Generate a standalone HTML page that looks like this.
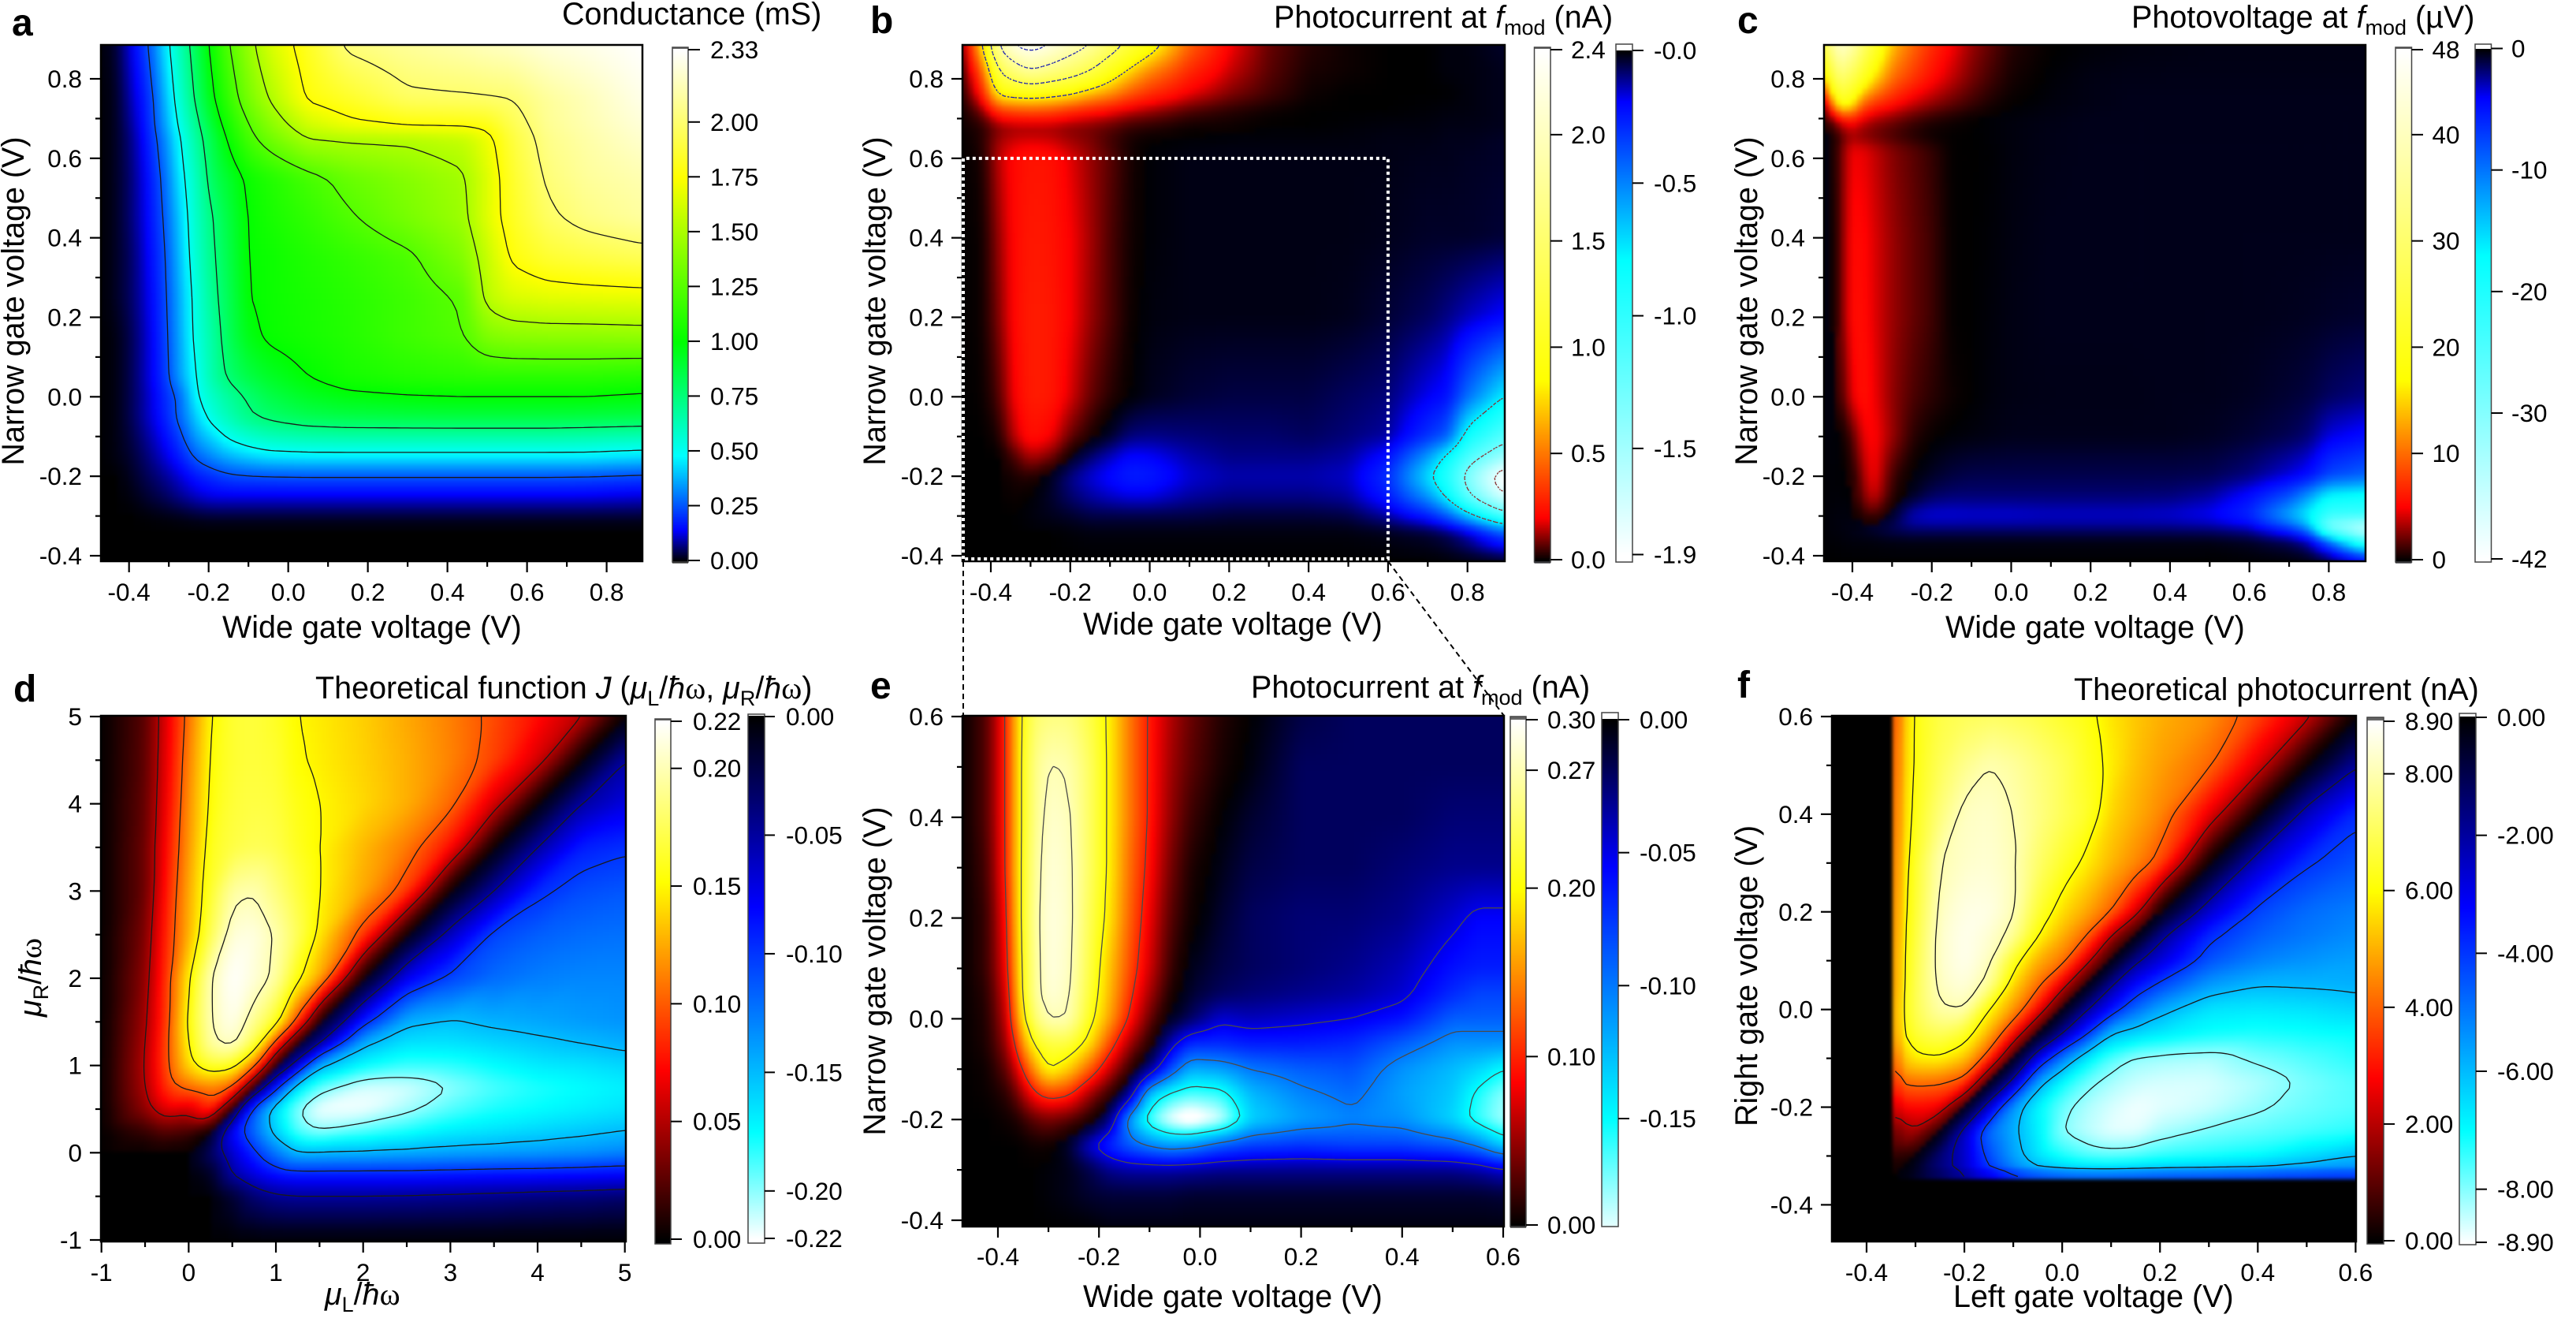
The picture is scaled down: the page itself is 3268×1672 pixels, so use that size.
<!DOCTYPE html>
<html lang="en">
<head>
<meta charset="utf-8">
<title>Photocurrent heatmaps</title>
<style>
html,body{margin:0;padding:0;background:#fff;}
svg{display:block;}
text{font-family:"Liberation Sans",sans-serif;fill:#000;}
.t{font-size:39.5px;}
.tick{font-size:31.5px;}
.pl{font-size:48px;font-weight:bold;}
.i{font-style:italic;}
.sub{font-size:27px;}
.w{font-family:"Liberation Serif",serif;}
</style>
</head>
<body>
<svg id="fig" xmlns="http://www.w3.org/2000/svg" width="3268" height="1672" viewBox="0 0 3268 1672">
<defs>
<filter id="soft" x="-3%" y="-3%" width="106%" height="106%" color-interpolation-filters="sRGB"><feGaussianBlur stdDeviation="2.3"/></filter>
</defs>
<rect width="3268" height="1672" fill="#fff"/>
<g id="plots"></g>
<g id="labels">
<text class="pl" x="15" y="45">a</text>
<text class="pl" x="1104" y="42">b</text>
<text class="pl" x="2204" y="42">c</text>
<text class="pl" x="17" y="890">d</text>
<text class="pl" x="1104" y="886">e</text>
<text class="pl" x="2204" y="885">f</text>

<text class="t" x="713" y="31">Conductance (mS)</text>
<text class="t" x="1616" y="35">Photocurrent at <tspan class="i">f</tspan><tspan class="sub" dy="9">mod</tspan><tspan dy="-9"> (nA)</tspan></text>
<text class="t" x="2704" y="35">Photovoltage at <tspan class="i">f</tspan><tspan class="sub" dy="9">mod</tspan><tspan dy="-9"> (µV)</tspan></text>
<text class="t" x="400" y="886">Theoretical function <tspan class="i">J</tspan> (<tspan class="i">μ</tspan><tspan class="sub" dy="9">L</tspan><tspan dy="-9">/</tspan><tspan class="i">ħ</tspan><tspan class="w">ω</tspan>, <tspan class="i">μ</tspan><tspan class="sub" dy="9">R</tspan><tspan dy="-9">/</tspan><tspan class="i">ħ</tspan><tspan class="w">ω</tspan>)</text>
<text class="t" x="1587" y="885">Photocurrent at <tspan class="i">f</tspan><tspan class="sub" dy="9">mod</tspan><tspan dy="-9"> (nA)</tspan></text>
<text class="t" x="2631" y="888">Theoretical photocurrent (nA)</text>

<text class="t" x="282" y="809">Wide gate voltage (V)</text>
<text class="t" x="1374" y="805">Wide gate voltage (V)</text>
<text class="t" x="2468" y="809">Wide gate voltage (V)</text>
<text class="t" x="412" y="1655"><tspan class="i">μ</tspan><tspan class="sub" dy="9">L</tspan><tspan dy="-9">/</tspan><tspan class="i">ħ</tspan><tspan class="w">ω</tspan></text>
<text class="t" x="1374" y="1658">Wide gate voltage (V)</text>
<text class="t" x="2478" y="1658">Left gate voltage (V)</text>

<text class="t" text-anchor="middle" transform="translate(30 382) rotate(-90)">Narrow gate voltage (V)</text>
<text class="t" text-anchor="middle" transform="translate(1123 382) rotate(-90)">Narrow gate voltage (V)</text>
<text class="t" text-anchor="middle" transform="translate(2229 382) rotate(-90)">Narrow gate voltage (V)</text>
<text class="t" text-anchor="middle" transform="translate(52 1240) rotate(-90)"><tspan class="i">μ</tspan><tspan class="sub" dy="9">R</tspan><tspan dy="-9">/</tspan><tspan class="i">ħ</tspan><tspan class="w">ω</tspan></text>
<text class="t" text-anchor="middle" transform="translate(1123 1232) rotate(-90)">Narrow gate voltage (V)</text>
<text class="t" text-anchor="middle" transform="translate(2229 1238) rotate(-90)">Right gate voltage (V)</text>
</g>
</svg>
<script>
// ---------- panel a: conductance (mS) ----------
const aXs=[-.47,-.43,-.39,-.35,-.31,-.27,-.23,-.19,-.15,-.1,-.05,.05,.15,.3,.44,.5,.56,.65,.75,.89];
const aYs=[.885,.75,.68,.65,.55,.45,.35,.25,.15,.05,0,-.05,-.1,-.15,-.2,-.25,-.3,-.33,-.41];
const aZ=[
[0,.03,.14,.25,.44,.64,.84,1.05,1.24,1.44,1.62,1.83,2.03,2.1,2.15,2.18,2.2,2.25,2.28,2.33],
[0,.02,.11,.2,.38,.58,.78,.98,1.15,1.35,1.5,1.77,1.84,1.97,1.98,1.99,2,2.1,2.17,2.28],
[0,.02,.09,.19,.35,.53,.71,.9,1.06,1.24,1.38,1.6,1.7,1.75,1.76,1.78,1.92,2.08,2.15,2.24],
[0,.02,.08,.18,.32,.5,.68,.86,1.02,1.2,1.32,1.5,1.52,1.53,1.58,1.7,1.88,2.06,2.13,2.22],
[0,.02,.07,.16,.28,.46,.62,.82,.91,1.03,1.09,1.2,1.3,1.39,1.48,1.65,1.84,2.02,2.1,2.15],
[0,.02,.07,.15,.26,.42,.6,.75,.87,1.01,1.06,1.14,1.23,1.35,1.46,1.66,1.82,1.97,2.05,2.11],
[0,.02,.06,.14,.24,.4,.58,.73,.85,1.01,1.03,1.09,1.14,1.22,1.38,1.58,1.77,1.86,1.9,1.94],
[0,.02,.06,.13,.23,.38,.55,.71,.83,1,1.03,1.07,1.11,1.18,1.27,1.55,1.64,1.67,1.68,1.69],
[0,.01,.05,.12,.22,.37,.54,.67,.82,.96,1.02,1.06,1.1,1.18,1.24,1.37,1.4,1.41,1.41,1.42],
[0,.01,.05,.12,.21,.36,.5,.66,.77,.86,.92,1,1.06,1.1,1.12,1.12,1.12,1.12,1.12,1.1],
[0,.01,.05,.11,.19,.28,.49,.6,.68,.77,.85,.93,.97,.99,1,1,1,1,1,.98],
[0,.01,.05,.11,.18,.28,.42,.55,.63,.73,.78,.84,.86,.87,.875,.875,.875,.875,.87,.86],
[0,.01,.04,.09,.15,.23,.36,.43,.52,.58,.62,.65,.66,.66,.66,.66,.66,.66,.65,.63],
[0,.01,.03,.07,.12,.18,.27,.33,.38,.42,.45,.46,.46,.46,.46,.46,.46,.46,.46,.44],
[0,0,.02,.05,.08,.12,.17,.2,.23,.24,.245,.25,.25,.25,.25,.25,.25,.25,.245,.23],
[0,0,.01,.03,.05,.08,.11,.13,.13,.13,.13,.13,.13,.13,.13,.13,.13,.13,.13,.12],
[0,0,0,.005,.01,.015,.025,.03,.03,.03,.03,.03,.03,.03,.03,.03,.03,.03,.03,.03],
[0,0,0,0,0,0,0,0,0,0,0,0,0,0,0,0,0,0,0,0],
[0,0,0,0,0,0,0,0,0,0,0,0,0,0,0,0,0,0,0,0]
];
const aXTicks=['-0.4','-0.2','0.0','0.2','0.4','0.6','0.8'];
const aXMinor=[-.3,-.1,.1,.3,.5,.7];
const aYTicks=['0.8','0.6','0.4','0.2','0.0','-0.2','-0.4'];
const aYMinor=[.7,.5,.3,.1,-.1,-.3];
const aBarLabels=['2.33','2.00','1.75','1.50','1.25','1.00','0.75','0.50','0.25','0.00'];
const aLevels=[.25,.5,.75,1,1.25,1.5,1.75,2];

// ---------- panel b: photocurrent (nA) ----------
const bXs=[-.47,-.42,-.38,-.34,-.3,-.25,-.2,-.15,-.1,-.05,0,.1,.2,.3,.4,.5,.6,.7,.75,.8,.89];
const bYs=[.885,.82,.76,.72,.68,.64,.6,.4,.2,0,-.1,-.15,-.2,-.25,-.3,-.34,-.41];
const bZ=[
[.05,.8,1.85,2.25,2.35,2.22,2,1.82,1.5,1.2,.95,.45,.2,.08,.03,.01,0,0,-.01,-.01,-.03],
[.03,.45,1.3,1.6,1.8,1.65,1.5,1.3,1,.75,.55,.3,.16,.07,.02,.01,0,0,-.01,-.01,-.02],
[.02,.25,.85,.9,.92,.88,.8,.65,.55,.4,.3,.18,.1,.05,.01,0,0,0,0,-.01,-.02],
[.01,.1,.32,.38,.4,.38,.3,.25,.2,.15,.12,.06,.03,.01,0,0,0,-.005,-.01,-.01,-.02],
[.01,.03,.1,.12,.12,.12,.1,.09,.07,.04,.03,.01,.01,0,0,-.005,-.01,-.01,-.015,-.015,-.02],
[0,.03,.13,.17,.18,.17,.13,.1,.05,.015,0,-.005,-.01,-.01,-.01,-.01,-.015,-.015,-.02,-.02,-.03],
[0,.02,.15,.22,.25,.24,.18,.12,.07,.02,-.005,-.015,-.015,-.015,-.015,-.015,-.015,-.02,-.02,-.025,-.03],
[0,.01,.12,.22,.26,.25,.2,.13,.06,.015,-.005,-.015,-.015,-.015,-.015,-.015,-.02,-.03,-.03,-.03,-.04],
[0,.01,.1,.22,.27,.26,.2,.12,.06,.01,-.01,-.015,-.015,-.015,-.015,-.02,-.04,-.07,-.1,-.14,-.2],
[0,.005,.06,.2,.27,.26,.17,.08,.03,0,-.02,-.04,-.05,-.05,-.05,-.07,-.09,-.18,-.22,-.45,-.75],
[0,0,.02,.15,.24,.2,.08,.02,-.03,-.09,-.1,-.09,-.08,-.08,-.07,-.09,-.12,-.3,-.4,-.85,-1.15],
[0,0,0,.06,.14,.1,0,-.08,-.14,-.2,-.19,-.13,-.1,-.1,-.1,-.12,-.22,-.55,-.8,-1.1,-1.45],
[0,0,0,.02,.03,-.02,-.1,-.16,-.21,-.26,-.25,-.16,-.13,-.13,-.13,-.15,-.3,-.72,-.95,-1.35,-1.95],
[0,0,0,.01,0,-.03,-.08,-.12,-.15,-.17,-.17,-.12,-.1,-.1,-.1,-.12,-.25,-.55,-.8,-1.2,-1.75],
[0,0,0,0,-.01,-.02,-.03,-.05,-.05,-.05,-.05,-.05,-.04,-.04,-.04,-.05,-.12,-.25,-.4,-.65,-1.1],
[0,0,0,0,0,0,-.005,-.01,-.01,-.01,-.01,-.01,-.01,-.01,-.01,-.01,-.02,-.04,-.07,-.15,-.4],
[0,0,0,0,0,0,0,0,0,0,0,0,0,0,0,0,0,0,-.005,-.01,-.02]
];
const bBarPosLabels=['2.4','2.0','1.5','1.0','0.5','0.0'];
const bBarNegLabels=['-0.0','-0.5','-1.0','-1.5','-1.9'];
const bLevelsPos=[.8,1.3,1.8,2.2];
const bLevelsNeg=[-.75,-1.25,-1.75];

// ---------- panel c: photovoltage (uV) ----------
const cXs=[-.47,-.44,-.41,-.38,-.35,-.3,-.25,-.2,-.15,-.1,-.05,0,.1,.2,.3,.4,.5,.6,.7,.75,.8,.89];
const cYs=[.885,.8,.74,.7,.66,.62,.4,.2,0,-.1,-.2,-.25,-.3,-.33,-.36,-.41];
const cZ=[
[25,42,40,32,24,14,10,7,5,3,1.8,.7,.05,-.1,-.2,-.25,-.3,-.3,-.3,-.3,-.3,-.3],
[12,30,28,22,16,10,7.5,5.5,3.8,2.3,1.2,.4,-.1,-.3,-.35,-.35,-.35,-.35,-.35,-.35,-.35,-.35],
[1,18,20,11,8,6,4.2,3,2,1.2,.5,.1,-.2,-.3,-.4,-.4,-.4,-.4,-.4,-.4,-.4,-.4],
[0,4,7,5,3.5,2.5,1.5,.8,.4,.1,-.1,-.2,-.3,-.4,-.4,-.4,-.4,-.4,-.4,-.4,-.4,-.4],
[-.3,.5,3,2.5,2,1.3,.6,.15,.05,0,-.1,-.2,-.35,-.4,-.4,-.4,-.4,-.4,-.4,-.4,-.4,-.4],
[-.3,.5,4.5,4.8,4,2.6,1.8,1,.05,.02,-.05,-.2,-.35,-.4,-.4,-.4,-.4,-.4,-.4,-.4,-.4,-.4],
[-.3,.2,5,5.5,4.5,3,2,1.2,.05,.01,-.1,-.25,-.4,-.4,-.4,-.4,-.4,-.4,-.4,-.4,-.4,-.4],
[-.3,.2,5,5.8,4.6,3,2,1.2,.05,0,-.15,-.3,-.4,-.4,-.4,-.4,-.4,-.4,-.45,-.5,-.6,-.7],
[-.3,0,3.5,6,5,2.8,1.5,.8,.25,.01,-.2,-.3,-.35,-.35,-.35,-.4,-.4,-.5,-.8,-1,-1.5,-2],
[-.2,-.1,.5,4,5.5,3,.8,.1,-.1,-.2,-.3,-.4,-.4,-.4,-.4,-.4,-.5,-.8,-1.3,-1.8,-3.5,-4.5],
[-.1,-.1,0,2,5.5,1.2,-.1,-.6,-1,-1.2,-1.2,-1.2,-1.2,-1.2,-1.2,-1.2,-1.3,-2,-3.5,-4.5,-7.5,-9],
[-.1,-.1,-.1,1.5,4.5,.8,-.5,-1.5,-1.8,-1.8,-1.8,-1.8,-1.8,-1.8,-1.8,-1.9,-2.5,-4.5,-8,-12,-17,-18],
[-.1,-.2,-.2,.5,1.5,-.5,-3,-3.5,-3.5,-3.4,-3.4,-3.4,-3.2,-3.2,-3.2,-3.4,-4,-6,-13,-17,-23,-23],
[-.1,-.2,-.3,-.5,-.8,-1.5,-2,-2,-2,-2,-2,-2,-2,-2,-2,-2,-2.2,-3,-7,-12,-30,-38],
[-.1,-.1,-.2,-.2,-.2,-.3,-.3,-.3,-.3,-.3,-.3,-.3,-.3,-.3,-.3,-.3,-.3,-.6,-1.5,-3,-10,-25],
[0,0,0,0,0,0,0,0,0,0,0,0,0,0,0,0,0,-.05,-.1,-.2,-.8,-4]
];
const cBarPosLabels=['48','40','30','20','10','0'];
const cBarNegLabels=['0','-10','-20','-30','-42'];

// ---------- panel d: theoretical J ----------
const dXs=[-1,-.5,-.25,0,.25,.5,.75,1,1.25,1.5,2,2.5,3,3.5,4,4.5,5];
const dYs=[5,4.5,4,3.5,3,2.5,2,1.5,1.25,1,.75,.5,.25,0,-.25,-.5,-1];
const dZ=[
[0,.025,.065,.108,.15,.165,.168,.162,.15,.146,.137,.125,.112,.095,.075,.052,0],
[0,.026,.067,.113,.153,.165,.168,.165,.152,.147,.138,.127,.113,.092,.06,0,-.05],
[0,.028,.07,.117,.155,.167,.17,.168,.157,.15,.14,.127,.105,.06,0,-.05,-.07],
[0,.03,.075,.12,.16,.17,.175,.172,.16,.15,.13,.11,.075,0,-.05,-.09,-.097],
[0,.03,.08,.125,.165,.195,.199,.185,.168,.15,.125,.09,0,-.05,-.095,-.108,-.112],
[0,.035,.085,.128,.175,.21,.212,.198,.175,.145,.09,0,-.06,-.105,-.115,-.12,-.122],
[0,.04,.09,.147,.2,.22,.21,.195,.155,.125,0,-.075,-.105,-.12,-.127,-.13,-.13],
[0,.045,.092,.155,.2,.215,.19,.16,.09,0,-.09,-.145,-.152,-.146,-.142,-.138,-.135],
[0,.048,.095,.15,.195,.205,.17,.09,0,-.05,-.145,-.165,-.165,-.16,-.155,-.15,-.145],
[0,.05,.095,.14,.165,.16,.11,0,-.07,-.145,-.175,-.185,-.183,-.175,-.168,-.165,-.16],
[0,.048,.088,.105,.115,.1,0,-.09,-.165,-.192,-.213,-.212,-.2,-.188,-.18,-.175,-.17],
[0,.04,.065,.06,.085,0,-.11,-.165,-.198,-.218,-.218,-.205,-.19,-.18,-.175,-.17,-.165],
[0,.015,.025,.02,0,-.08,-.12,-.16,-.19,-.2,-.19,-.18,-.17,-.165,-.16,-.155,-.15],
[0,0,0,0,-.03,-.065,-.095,-.125,-.15,-.15,-.148,-.145,-.142,-.14,-.138,-.135,-.13],
[0,0,0,0,-.01,-.05,-.07,-.085,-.09,-.09,-.09,-.09,-.088,-.086,-.085,-.083,-.08],
[0,0,0,0,0,-.015,-.035,-.045,-.048,-.048,-.048,-.047,-.045,-.043,-.04,-.038,-.035],
[0,0,0,0,0,0,0,0,0,0,0,0,0,0,0,0,0]
];
const dXTicks=['-1','0','1','2','3','4','5'];
const dYTicks=['5','4','3','2','1','0','-1'];
const dMinor=[-.5,.5,1.5,2.5,3.5,4.5];
const dBarPosLabels=['0.22','0.20','0.15','0.10','0.05','0.00'];
const dBarNegLabels=['0.00','-0.05','-0.10','-0.15','-0.20','-0.22'];
const dLevels=[.05,.1,.15,.2,-.05,-.1,-.15,-.2];

// ---------- panel e: photocurrent zoom (nA) ----------
const eXs=[-.47,-.42,-.38,-.36,-.33,-.3,-.26,-.22,-.18,-.14,-.1,-.06,-.02,.04,.1,.2,.3,.4,.5,.55,.6];
const eYs=[.6,.5,.4,.3,.2,.1,.05,0,-.05,-.1,-.15,-.2,-.25,-.3,-.35,-.415];
const eZ=[
[0,.03,.11,.19,.24,.25,.25,.23,.195,.14,.095,.06,.035,.012,0,-.015,-.02,-.02,-.02,-.02,-.02],
[0,.03,.11,.19,.25,.272,.268,.24,.195,.14,.095,.055,.03,.008,-.003,-.02,-.02,-.02,-.02,-.02,-.02],
[0,.03,.11,.19,.25,.28,.275,.24,.195,.14,.095,.05,.02,0,-.01,-.02,-.02,-.02,-.025,-.025,-.025],
[0,.025,.11,.19,.255,.285,.278,.24,.195,.135,.09,.04,.01,-.005,-.015,-.02,-.02,-.025,-.03,-.03,-.03],
[0,.02,.1,.19,.258,.288,.28,.235,.19,.13,.08,.03,.005,-.01,-.02,-.025,-.025,-.03,-.045,-.055,-.055],
[0,.02,.09,.185,.255,.288,.278,.23,.175,.12,.07,.02,-.005,-.015,-.02,-.025,-.03,-.04,-.06,-.065,-.065],
[0,.015,.08,.18,.255,.285,.275,.225,.17,.11,.055,.01,-.01,-.02,-.025,-.03,-.035,-.045,-.07,-.08,-.08],
[0,.012,.07,.165,.24,.272,.27,.215,.16,.095,.035,-.005,-.02,-.045,-.04,-.045,-.05,-.06,-.09,-.09,-.09],
[0,.01,.055,.125,.205,.225,.225,.19,.12,.055,.01,-.04,-.07,-.07,-.065,-.065,-.07,-.09,-.11,-.11,-.11],
[0,.005,.035,.08,.15,.205,.18,.13,.07,.015,-.03,-.08,-.12,-.115,-.1,-.09,-.085,-.11,-.125,-.135,-.15],
[0,.003,.015,.04,.09,.115,.105,.055,.015,-.03,-.13,-.155,-.165,-.16,-.125,-.105,-.095,-.115,-.13,-.155,-.175],
[0,0,.005,.01,.03,.04,.03,.01,-.025,-.115,-.165,-.195,-.21,-.19,-.135,-.115,-.105,-.11,-.135,-.16,-.18],
[0,0,0,0,.005,.005,-.01,-.045,-.07,-.09,-.105,-.115,-.11,-.09,-.08,-.075,-.08,-.08,-.09,-.105,-.135],
[0,0,0,0,0,-.002,-.005,-.015,-.03,-.035,-.035,-.035,-.033,-.03,-.03,-.03,-.03,-.03,-.03,-.035,-.045],
[0,0,0,0,0,-.002,-.005,-.01,-.012,-.012,-.012,-.012,-.01,-.01,-.01,-.01,-.01,-.01,-.01,-.01,-.012],
[0,0,0,0,0,0,0,0,-.003,-.003,-.003,-.003,-.003,-.003,-.003,-.003,-.003,-.003,-.003,-.003,-.003]
];
const eXTicks=['-0.4','-0.2','0.0','0.2','0.4','0.6'];
const eXMinor=[-.3,-.1,.1,.3,.5];
const eYTicks=['0.6','0.4','0.2','0.0','-0.2','-0.4'];
const eYMinor=[.5,.3,.1,-.1,-.3];
const eBarPosLabels=['0.30','0.27','0.20','0.10','0.00'];
const eBarNegLabels=['0.00','-0.05','-0.10','-0.15'];
const eLevels=[.1,.2,.27,-.05,-.1,-.15];

// ---------- panel f: theoretical photocurrent (nA) ----------
const fXs=[-.47,-.345,-.34,-.3,-.25,-.2,-.15,-.1,-.05,0,.05,.1,.15,.2,.3,.4,.5,.6];
const fYs=[.6,.5,.4,.3,.2,.15,.1,.05,0,-.05,-.1,-.15,-.2,-.25,-.3,-.34,-.345,-.47];
const fZ=[
[0,0,4.4,6.2,6.8,7,7.1,7,6.8,6.5,6.2,5.7,5.3,5,4.6,3.6,2.2,0],
[0,0,4.6,6.2,7,7.6,8,7.8,7.4,7,6.4,5.8,5.2,4.8,4.1,2.4,0,-1.9],
[0,0,4.8,6.3,7.4,8.2,8.3,8,7.5,7,6.5,5.5,5,4.5,2.6,0,-2.4,-3.8],
[0,0,5,6.5,8,8.3,8.4,8.1,7.2,6.5,5.8,5.1,4.5,3.7,0,-2.5,-3.9,-4.4],
[0,0,5.2,6.6,8.2,8.6,8.6,8.1,6.6,5.6,4.9,4,2.4,0,-2.6,-4.2,-4.8,-5.1],
[0,0,5.3,6.7,8.3,8.7,8.4,7.7,6,5,4,2,0,-1.75,-3.8,-4.6,-5,-5.3],
[0,0,5.4,6.8,8.3,8.7,8.2,6.4,5,4.3,2.4,0,-1.8,-2.7,-4.4,-5.1,-5.4,-5.6],
[0,0,5.4,6.9,8.2,8.5,7.7,5.5,4.2,2.5,0,-1.9,-3.3,-4.2,-5.5,-5.95,-5.9,-5.8],
[0,0,5.6,6.9,7.9,8,6,4.7,2.9,0,-1.9,-3.4,-4.8,-5.7,-6.6,-6.7,-6.6,-6.4],
[0,0,5.5,6.6,7,6.5,5,3,0,-2,-3.9,-6,-6.4,-6.7,-7.1,-7.2,-7.1,-7],
[0,0,4.8,5.8,5.9,5.3,3.5,0,-2.9,-5,-6.7,-7.6,-8.1,-8.2,-8.3,-7.9,-7.6,-7.3],
[0,0,3.9,4.2,4.1,3.6,0,-2.4,-5.6,-7,-7.8,-8.25,-8.5,-8.6,-8.6,-8.3,-7.9,-7.6],
[0,0,2.7,2.9,2.7,0,-2.6,-5.4,-6.9,-7.8,-8.3,-8.6,-8.8,-8.7,-8.5,-8.1,-7.8,-7.6],
[0,0,1.4,1.9,0,-2.4,-4.8,-5.8,-6.8,-8,-8.4,-8.7,-8.7,-8.3,-7.9,-7.7,-7.5,-7.3],
[0,0,.6,0,-1.5,-2.5,-4.3,-5.6,-6.6,-7.2,-7.6,-7.7,-7.6,-7.4,-7.2,-7,-6.5,-6],
[0,0,0,-.6,-1.5,-2.4,-3.6,-4.7,-5.4,-5.7,-5.8,-5.8,-5.7,-5.6,-5.5,-5.3,-5.1,-5],
[0,0,0,0,0,0,0,0,0,0,0,0,0,0,0,0,0,0],
[0,0,0,0,0,0,0,0,0,0,0,0,0,0,0,0,0,0]
];
const fBarPosLabels=['8.90','8.00','6.00','4.00','2.00','0.00'];
const fBarNegLabels=['0.00','-2.00','-4.00','-6.00','-8.00','-8.90'];
const fLevels=[2,4,6,8,-2,-4,-6,-8];

// ---------- colour ramps (style) ----------
const BK=[0,0,0],BL=[0,0,255],CY=[0,255,255],WH=[255,255,255],RD=[255,0,0],YL=[255,255,0],GR=[0,255,0];
function hot(r,y,w){return [[0,BK],[r,RD],[y,YL],[w,WH]];}
function ice(b,c,w){return [[0,BK],[b,BL],[c,CY],[w,WH]];}
function ramp(stops,v){
  if(v<=stops[0][0])return stops[0][1];
  for(let i=1;i<stops.length;i++){
    if(v<=stops[i][0]){
      const a=stops[i-1],b=stops[i],t=(v-a[0])/(b[0]-a[0]);
      return [a[1][0]+(b[1][0]-a[1][0])*t,a[1][1]+(b[1][1]-a[1][1])*t,a[1][2]+(b[1][2]-a[1][2])*t];
    }
  }
  return stops[stops.length-1][1];
}
function colorOf(p,v){
  const c=v>=0?ramp(p.pos,v):ramp(p.neg,-v);
  return 'rgb('+Math.round(c[0])+','+Math.round(c[1])+','+Math.round(c[2])+')';
}

// ---------- panel layout ----------
const XT=aXTicks,YT=aYTicks;
const panels=[
{id:'a',X:aXs,Y:aYs,Z:aZ,L:128,R:815,T:57,B:712,xa:[-.4,163.7,.8,769.6],ya:[.8,100,-.4,705],xt:XT,xm:aXMinor,yt:YT,ym:aYMinor,xb:762,pos:[[0,BK],[.14,BL],[.48,CY],[1,GR],[1.75,YL],[2.33,WH]],neg:[[0,BK]],levels:aLevels,smooth:1,stroke:'#1a1a1a',
 bars:[{x:853,w:20,top:60,bot:713,a:[2.33,63,0,711],lab:aBarLabels,lx:901,cap:'#666',tickEnd:888}]},
{id:'b',X:bXs,Y:bYs,Z:bZ,L:1221,R:1909,T:57,B:712,xa:[-.4,1257,.8,1861.7],ya:[.8,100,-.4,705],xt:XT,xm:aXMinor,yt:YT,ym:aYMinor,xb:762,pos:hot(.2,.85,2.4),neg:ice(.19,.79,1.9),levels:bLevelsPos.concat(bLevelsNeg),smooth:1,stroke:'#1a20b0',strokeNeg:'#8c2c2c',dash:'2.5 2',
 bars:[{x:1946.5,w:20.5,top:60,bot:713,a:[2.4,63,0,710],lab:bBarPosLabels,lx:1993,cap:'#666',tickEnd:1982},{x:2050,w:21,top:56,bot:713,a:[0,64,-1.9,703.5],lab:bBarNegLabels,lx:2098,cap:'#fff',tickEnd:2085}]},
{id:'c',X:cXs,Y:cYs,Z:cZ,L:2314,R:3001,T:57,B:712,xa:[-.4,2350,.8,2954.4],ya:[.8,100,-.4,705],xt:XT,xm:aXMinor,yt:YT,ym:aYMinor,xb:762,pos:hot(5,17,48),neg:ice(4,17,42),levels:[],smooth:1,stroke:'#000',
 bars:[{x:3039,w:20.5,top:60,bot:713,a:[48,63,0,710],lab:cBarPosLabels,lx:3085.5,cap:'#666',tickEnd:3074},{x:3140,w:20.5,top:56,bot:713,a:[0,61.5,-42,709],lab:cBarNegLabels,lx:3186,cap:'#fff',tickEnd:3175}]},
{id:'d',X:dXs,Y:dYs,Z:dZ,L:128,R:794,T:908,B:1575,xa:[-1,128.7,5,792.7],ya:[5,909,-1,1573],xt:dXTicks,xm:dMinor,yt:dYTicks,ym:dMinor,xb:1625,pos:hot(.072,.152,.22),neg:ice(.08,.175,.22),levels:dLevels,smooth:1,stroke:'#1a1a1a',diag:true,
 bars:[{x:831,w:20,top:912,bot:1578,a:[.22,915,0,1572],lab:dBarPosLabels,lx:879,cap:'#666',tickEnd:865},{x:949,w:21,top:906,bot:1577,a:[0,909,-.22,1571],lab:dBarNegLabels,lx:997,cap:'#fff',tickEnd:983}]},
{id:'e',X:eXs,Y:eYs,Z:eZ,L:1221,R:1908,T:908,B:1556,xa:[-.4,1266,.6,1907],ya:[.6,909,-.4,1548],xt:eXTicks,xm:eXMinor,yt:eYTicks,ym:eYMinor,xb:1605,pos:hot(.085,.2,.3),neg:ice(.055,.15,.195),levels:eLevels,smooth:1,stroke:'#4a4a4a',
 bars:[{x:1916,w:20,top:909,bot:1556,a:[.3,913,0,1554],lab:eBarPosLabels,lx:1963,cap:'#666',tickEnd:1951},{x:2032,w:21,top:904,bot:1556,a:[0,913,-.15,1419],lab:eBarNegLabels,lx:2080,cap:'#fff',tickEnd:2067}]},
{id:'f',X:fXs,Y:fYs,Z:fZ,L:2324,R:2989,T:908,B:1575,xa:[-.4,2368,.6,2988.4],ya:[.6,909,-.4,1528.4],xt:eXTicks,xm:eXMinor,yt:eYTicks,ym:eYMinor,xb:1625,pos:hot(2.8,6,8.9),neg:ice(3.2,7,8.9),levels:fLevels,smooth:1,stroke:'#1a1a1a',diag:true,skipZero:true,
 bars:[{x:3003,w:21,top:910,bot:1578,a:[8.9,915,0,1574],lab:fBarPosLabels,lx:3051,cap:'#666',tickEnd:3038},{x:3120,w:21,top:905,bot:1579,a:[0,910,-8.9,1576],lab:fBarNegLabels,lx:3168,cap:'#fff',tickEnd:3155}]}
];

// ---------- axis functions ----------
function xScale(p,v){return p.xa[1]+(v-p.xa[0])*(p.xa[3]-p.xa[1])/(p.xa[2]-p.xa[0]);}
function yScale(p,v){return p.ya[1]+(v-p.ya[0])*(p.ya[3]-p.ya[1])/(p.ya[2]-p.ya[0]);}
function xInv(p,px){return p.xa[0]+(px-p.xa[1])*(p.xa[2]-p.xa[0])/(p.xa[3]-p.xa[1]);}
function yInv(p,py){return p.ya[0]+(py-p.ya[1])*(p.ya[2]-p.ya[0])/(p.ya[3]-p.ya[1]);}

function sampleGrid(p,x,y){
  const X=p.X,Y=p.Y,Z=p.Z;
  x=Math.max(X[0],Math.min(X[X.length-1],x));
  y=Math.min(Y[0],Math.max(Y[Y.length-1],y));
  let i=0;while(i<X.length-2&&x>X[i+1])i++;
  let j=0;while(j<Y.length-2&&y<Y[j+1])j++;
  const u=(x-X[i])/(X[i+1]-X[i]),w=(y-Y[j+1])/(Y[j]-Y[j+1]);
  const ll=Z[j+1][i],lr=Z[j+1][i+1],ul=Z[j][i],ur=Z[j][i+1];
  if(p.diag){
    if(w>u)return ll*(1-w)+ul*(w-u)+ur*u;
    return ll*(1-u)+lr*(u-w)+ur*w;
  }
  return (ll*(1-u)+lr*u)*(1-w)+(ul*(1-u)+ur*u)*w;
}

const NS='http://www.w3.org/2000/svg';
const STEP=7;
const root=document.getElementById('plots');
function mk(tag,parent){const e=document.createElementNS(NS,tag);parent.appendChild(e);return e;}

function buildField(p){
  const nx=Math.ceil((p.R-p.L)/STEP)+4,ny=Math.ceil((p.B-p.T)/STEP)+4;
  let f=[];
  for(let j=0;j<ny;j++){
    const row=[];
    for(let i=0;i<nx;i++){
      row.push(sampleGrid(p,xInv(p,p.L+(i-2+.5)*STEP),yInv(p,p.T+(j-2+.5)*STEP)));
    }
    f.push(row);
  }
  for(let s=0;s<p.smooth;s++){
    const g=f.map(function(r){return r.slice();});
    for(let j=0;j<ny;j++)for(let i=0;i<nx;i++){
      const v=f[j][i];
      if(v===0)continue;
      let sum=0,n=0;
      for(let b=-1;b<=1;b++)for(let a=-1;a<=1;a++){
        const jj=j+b,ii=i+a;
        if(jj<0||ii<0||jj>=ny||ii>=nx)continue;
        const o=f[jj][ii];
        if(o*v>0){sum+=o;n++;}
      }
      g[j][i]=n?sum/n:v;
    }
    f=g;
  }
  return {f:f,nx:nx,ny:ny};
}

function contourPath(p,fd,lev){
  const f=fd.f;let d='';
  const px=function(i){return p.L+(i-2+.5)*STEP;},py=function(j){return p.T+(j-2+.5)*STEP;};
  for(let j=0;j<fd.ny-1;j++)for(let i=0;i<fd.nx-1;i++){
    const a=f[j][i],b=f[j][i+1],c=f[j+1][i+1],e=f[j+1][i];
    if(p.skipZero&&(a===0||b===0||c===0||e===0))continue;
    const pts=[];
    if((a-lev)*(b-lev)<0)pts.push([px(i)+STEP*(lev-a)/(b-a),py(j)]);
    if((b-lev)*(c-lev)<0)pts.push([px(i+1),py(j)+STEP*(lev-b)/(c-b)]);
    if((e-lev)*(c-lev)<0)pts.push([px(i)+STEP*(lev-e)/(c-e),py(j+1)]);
    if((a-lev)*(e-lev)<0)pts.push([px(i),py(j)+STEP*(lev-a)/(e-a)]);
    for(let k=0;k+1<pts.length;k+=2){
      d+='M'+pts[k][0].toFixed(1)+' '+pts[k][1].toFixed(1)+'L'+pts[k+1][0].toFixed(1)+' '+pts[k+1][1].toFixed(1);
    }
  }
  return d;
}

function tickLine(g,x1,y1,x2,y2,w,col){
  const l=mk('line',g);
  
  
  l.setAttribute('x1',x1);l.setAttribute('y1',y1);l.setAttribute('x2',x2);l.setAttribute('y2',y2);
  l.setAttribute('stroke',col||'#000');l.setAttribute('stroke-width',w||2);
}

function drawPanel(p){
  const g=mk('g',root);
  
  
  const cp=mk('clipPath',g);cp.setAttribute('id','clip-'+p.id);
  const cr=mk('rect',cp);cr.setAttribute('x',p.L);cr.setAttribute('y',p.T);cr.setAttribute('width',p.R-p.L);cr.setAttribute('height',p.B-p.T);
  const outer=mk('g',g);
  
  
  outer.setAttribute('clip-path','url(#clip-'+p.id+')');
  const cells=mk('g',outer);
  cells.setAttribute('filter','url(#soft)');
  cells.setAttribute('shape-rendering','crispEdges');
  const fd=buildField(p);
  for(let j=0;j<fd.ny;j++)for(let i=0;i<fd.nx;i++){
    const r=mk('rect',cells);
    
    
    r.setAttribute('x',p.L+(i-2)*STEP);
    r.setAttribute('y',p.T+(j-2)*STEP);
    r.setAttribute('width',STEP+1);
    r.setAttribute('height',STEP+1);
    r.setAttribute('fill',colorOf(p,fd.f[j][i]));
  }
  p.levels.forEach(function(lev){
    const pa=mk('path',outer);
    
    
    pa.setAttribute('d',contourPath(p,fd,lev));
    pa.setAttribute('fill','none');
    pa.setAttribute('stroke',lev<0&&p.strokeNeg?p.strokeNeg:p.stroke);
    pa.setAttribute('stroke-width','1.3');
    if(p.dash)pa.setAttribute('stroke-dasharray',p.dash);
  });
  const fr=mk('rect',g);
  
  
  fr.setAttribute('x',p.L);fr.setAttribute('y',p.T);fr.setAttribute('width',p.R-p.L);fr.setAttribute('height',p.B-p.T);
  fr.setAttribute('fill','none');fr.setAttribute('stroke','#000');fr.setAttribute('stroke-width','2.5');

  p.xt.forEach(function(lab){
    const x=xScale(p,Number(lab));
    tickLine(g,x,p.B,x,p.B+14,2.2);
    const t=mk('text',g);
    
    
    t.setAttribute('class','tick');
    t.setAttribute('x',x);t.setAttribute('y',p.xb);t.setAttribute('text-anchor','middle');
    t.textContent=lab;
  });
  p.xm.forEach(function(v){const x=xScale(p,v);tickLine(g,x,p.B,x,p.B+7,2.2);});
  p.yt.forEach(function(lab){
    const y=yScale(p,Number(lab));
    tickLine(g,p.L-14,y,p.L,y,2.2);
    const t=mk('text',g);
    
    
    t.setAttribute('class','tick');
    t.setAttribute('x',p.L-24);t.setAttribute('y',y+11);t.setAttribute('text-anchor','end');
    t.textContent=lab;
  });
  p.ym.forEach(function(v){const y=yScale(p,v);tickLine(g,p.L-7,y,p.L,y,2.2);});

  p.bars.forEach(function(b){
    const bg=mk('g',g);
    
    
    const scaleV=function(y){return b.a[0]+(y-b.a[1])*(b.a[2]-b.a[0])/(b.a[3]-b.a[1]);};
    const scaleY=function(v){return b.a[1]+(v-b.a[0])*(b.a[3]-b.a[1])/(b.a[2]-b.a[0]);};
    for(let y=b.top;y<b.bot;y+=2){
      const s=mk('rect',bg);
      
      
      s.setAttribute('x',b.x);s.setAttribute('y',y);s.setAttribute('width',b.w);s.setAttribute('height',2.4);
      s.setAttribute('shape-rendering','crispEdges');
      const capped=y<b.a[1]-1;
      s.setAttribute('fill',capped?b.cap:colorOf(p,scaleV(y)));
    }
    const o=mk('rect',bg);
    
    
    o.setAttribute('x',b.x);o.setAttribute('y',b.top);o.setAttribute('width',b.w);o.setAttribute('height',b.bot-b.top);
    o.setAttribute('fill','none');o.setAttribute('stroke','#444');o.setAttribute('stroke-width','1.5');
    b.lab.forEach(function(lab){
      const y=scaleY(Number(lab));
      tickLine(bg,b.x+b.w,y,b.tickEnd,y,2);
      const t=mk('text',bg);
      
      
      t.setAttribute('class','tick');
      t.setAttribute('x',b.lx);t.setAttribute('y',y+11);
      t.textContent=lab;
    });
  });
}
panels.forEach(drawPanel);

// ---------- zoom window of panel b and its connectors ----------
(function(){
  const p=panels[1];
  const g=mk('g',root);
  
  
  const x1=1222,y1=yScale(p,.6),x2=xScale(p,.6),y2=709;
  const w=mk('path',g);
  
  
  w.setAttribute('d','M'+x1+' '+y2+'L'+x1+' '+y1+'L'+x2+' '+y1+'L'+x2+' '+y2+'Z');
  w.setAttribute('fill','none');w.setAttribute('stroke','#fff');w.setAttribute('stroke-width','4');w.setAttribute('stroke-dasharray','4 4');
  const c1=mk('line',g);
  
  
  c1.setAttribute('x1',x1);c1.setAttribute('y1',712);c1.setAttribute('x2',x1);c1.setAttribute('y2',908);
  c1.setAttribute('stroke','#000');c1.setAttribute('stroke-width','2');c1.setAttribute('stroke-dasharray','7 5');
  const c2=mk('line',g);
  
  
  c2.setAttribute('x1',x2);c2.setAttribute('y1',712);c2.setAttribute('x2',1908);c2.setAttribute('y2',908);
  c2.setAttribute('stroke','#000');c2.setAttribute('stroke-width','2');c2.setAttribute('stroke-dasharray','7 5');
})();
</script>
</body>
</html>
